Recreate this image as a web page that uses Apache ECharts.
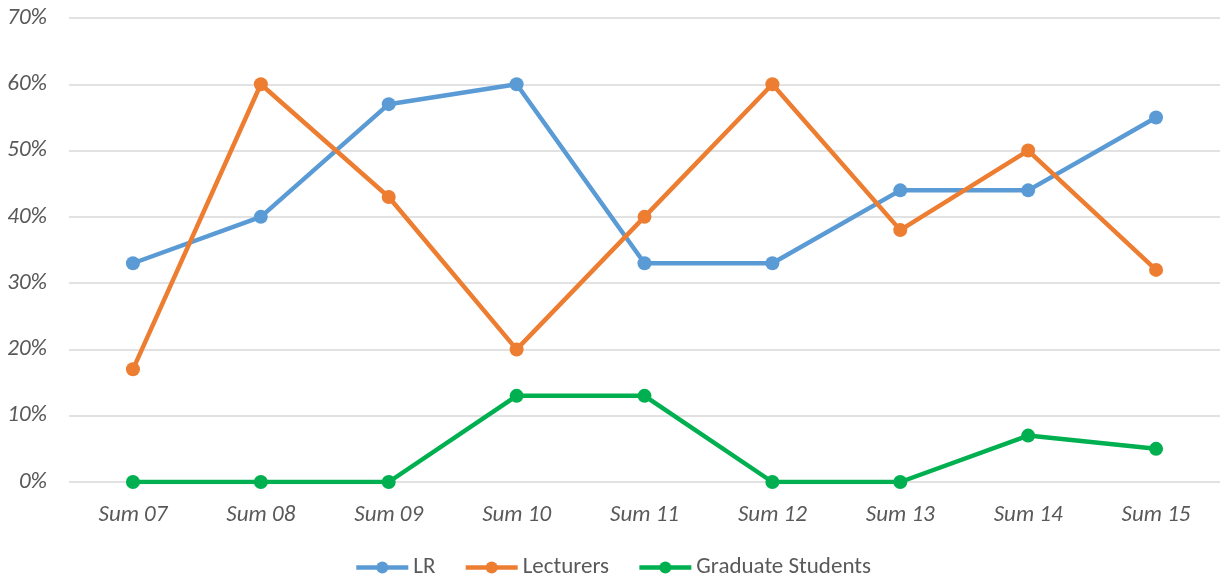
<!DOCTYPE html>
<html>
<head>
<meta charset="utf-8">
<script src="https://cdn.jsdelivr.net/npm/echarts@6/dist/echarts.min.js"></script>
<style>
  html, body { margin: 0; padding: 0; background: #fff; }
</style>
</head>
<body>
<div id="main" style="width: 1225px; height: 581px"></div>
<script type="text/javascript">
  var categories = ['Sum 07', 'Sum 08', 'Sum 09', 'Sum 10', 'Sum 11', 'Sum 12', 'Sum 13', 'Sum 14', 'Sum 15'];
  var lr = [33, 40, 57, 60, 33, 33, 44, 44, 55];
  var lecturers = [17, 60, 43, 20, 40, 60, 38, 50, 32];
  var gradStudents = [0, 0, 0, 13, 13, 0, 0, 7, 5];

  var font = 'Carlito, "Open Sans", "Liberation Sans", sans-serif';

  function makeSeries(name, data, color) {
    return {
      name: name,
      type: 'line',
      data: data,
      symbol: 'circle',
      symbolSize: 14,
      lineStyle: { width: 4.5, color: color },
      itemStyle: { color: color },
      emphasis: { disabled: true }
    };
  }

  var chart = echarts.init(document.getElementById('main'));
  var option = {
    animation: false,
    grid: { left: 69, right: 5, top: 18, bottom: 99 },
    legend: {
      bottom: -3,
      left: 'center',
      itemWidth: 52,
      itemHeight: 15,
      itemGap: 28,
      lineStyle: { width: 4.5 },
      textStyle: { color: '#595959', fontSize: 23, fontFamily: font },
      data: ['LR', 'Lecturers', 'Graduate Students']
    },
    xAxis: {
      type: 'category',
      data: categories,
      boundaryGap: true,
      axisLine: { show: false },
      axisTick: { show: false },
      axisLabel: {
        color: '#595959',
        fontSize: 23,
        fontStyle: 'italic',
        fontFamily: font,
        margin: 22
      }
    },
    yAxis: {
      type: 'value',
      min: 0,
      max: 70,
      interval: 10,
      axisLine: { show: false },
      axisTick: { show: false },
      splitLine: { lineStyle: { color: '#d9d9d9', width: 1.5 } },
      axisLabel: {
        color: '#595959',
        fontSize: 23,
        fontStyle: 'italic',
        fontFamily: font,
        margin: 22,
        formatter: '{value}%'
      }
    },
    series: [
      makeSeries('LR', lr, '#5B9BD5'),
      makeSeries('Lecturers', lecturers, '#ED7D31'),
      makeSeries('Graduate Students', gradStudents, '#00B050')
    ]
  };
  chart.setOption(option);
</script>
</body>
</html>
